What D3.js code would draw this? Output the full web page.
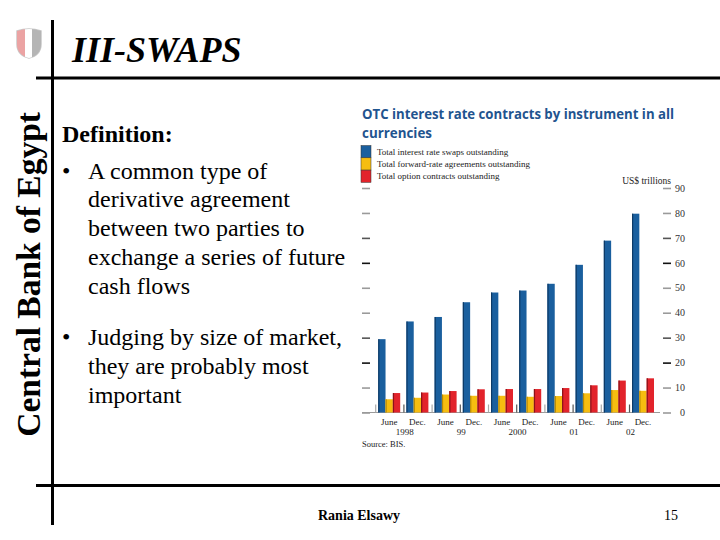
<!DOCTYPE html>
<html><head><meta charset="utf-8">
<script src="https://cdn.jsdelivr.net/npm/d3@7"></script>
<style>html,body{margin:0;padding:0;background:#fff;} svg{display:block;}</style>
</head><body>
<svg id="c" width="720" height="540"></svg>
<script>
// ---- data ----
const categories = ["June 1998","Dec. 1998","June 1999","Dec. 1999","June 2000","Dec. 2000","June 2001","Dec. 2001","June 2002","Dec. 2002"];
const monthLabels = ["June","Dec.","June","Dec.","June","Dec.","June","Dec.","June","Dec."];
const yearLabels = ["1998","99","2000","01","02"];
const swaps   = [29.4, 36.5, 38.3, 44.2, 48.1, 48.9, 51.6, 59.2, 68.9, 79.7];
const fras    = [5.3, 5.9, 7.2, 6.7, 6.7, 6.3, 6.6, 7.7, 9.0, 8.7];
const options = [7.8, 8.0, 8.6, 9.3, 9.4, 9.4, 9.8, 10.9, 12.8, 13.7];
const seriesNames = ["Total interest rate swaps outstanding","Total forward-rate agreements outstanding","Total option contracts outstanding"];
const yTicks = [0,10,20,30,40,50,60,70,80,90];
const chartTitle = ["OTC interest rate contracts by instrument in all","currencies"];
const unitLabel = "US$ trillions";
const sourceLabel = "Source:  BIS.";
const slideTitle = "III-SWAPS";
const sideLabel = "Central Bank of Egypt";
const bulletDefinition = "Definition:";
const bullet1 = ["A common type of","derivative agreement","between two parties to","exchange a series of future","cash flows"];
const bullet2 = ["Judging by size of market,","they are probably most","important"];
const footerName = "Rania Elsawy";
const pageNumber = "15";

// ---- styles ----
const seriesColors = ["#1a5f9e","#f6bd10","#e2232b"];
const serif = "'Liberation Serif','Times New Roman',serif";
const sans = "'Open Sans','Noto Sans',sans-serif";

const svg = d3.select("#c");

// ---- slide frame ----
svg.append("line").attr("x1",52.5).attr("x2",52.5).attr("y1",20).attr("y2",525).attr("stroke","#000").attr("stroke-width",3);
svg.append("line").attr("x1",36).attr("x2",720).attr("y1",78).attr("y2",78).attr("stroke","#000").attr("stroke-width",3);
svg.append("line").attr("x1",36).attr("x2",720).attr("y1",485.5).attr("y2",485.5).attr("stroke","#000").attr("stroke-width",3);

// logo (shield)
const logo = svg.append("g").attr("transform","translate(16,28)");
const shieldPath = "M1,3 Q13,-1 25,3 L25,16 Q25,27 13,30 Q1,27 1,16 Z";
const clip = svg.append("defs").append("clipPath").attr("id","sh");
clip.append("path").attr("d",shieldPath).attr("transform","translate(16,28)");
const lg = svg.append("g").attr("clip-path","url(#sh)");
lg.append("rect").attr("x",16).attr("y",26).attr("width",9).attr("height",34).attr("fill","#eba3a3");
lg.append("rect").attr("x",25).attr("y",26).attr("width",7).attr("height",34).attr("fill","#ffffff");
lg.append("rect").attr("x",32).attr("y",26).attr("width",12).attr("height",34).attr("fill","#b5b5b5");
logo.append("path").attr("d",shieldPath).attr("fill","none").attr("stroke","#c8c8c8").attr("stroke-width",1.5);

svg.append("text").attr("x",72).attr("y",62).attr("font-family",serif).attr("font-size",36)
  .attr("font-weight","bold").attr("font-style","italic").text(slideTitle);

svg.append("text").attr("transform","translate(40,112) rotate(-90)").attr("text-anchor","end")
  .attr("font-family",serif).attr("font-size",33.5).attr("font-weight","bold").text(sideLabel);

// body text
const body = svg.append("g").attr("font-family",serif).attr("font-size",24).attr("fill","#000");
body.append("text").attr("x",62).attr("y",142).attr("font-weight","bold").text(bulletDefinition);
body.append("text").attr("x",62).attr("y",178.5).text("\u2022");
bullet1.forEach((t,i)=> body.append("text").attr("x",88).attr("y",178.5+i*28.8).text(t));
body.append("text").attr("x",62).attr("y",345).text("\u2022");
bullet2.forEach((t,i)=> body.append("text").attr("x",88).attr("y",345+i*28.8).text(t));

// footer
svg.append("text").attr("x",318).attr("y",520).attr("font-family",serif).attr("font-size",14).attr("font-weight","bold").text(footerName);
svg.append("text").attr("x",664).attr("y",520).attr("font-family",serif).attr("font-size",14).text(pageNumber);

// ---- chart ----
const y = d3.scaleLinear().domain([0,90]).range([412.5,188]);
const x0 = d3.scaleBand().domain(categories).range([375.1,657.1]).paddingInner(0.22).paddingOuter(0.11);
const x1 = d3.scaleBand().domain(seriesNames).range([0,x0.bandwidth()]);

const chart = svg.append("g");

// title
chartTitle.forEach((t,i)=>{
  const tx = chart.append("text").attr("x",362).attr("y",119+i*19).attr("font-family",sans)
    .attr("font-size",13.5).attr("font-weight","bold").attr("fill","#1f548f").text(t);
  if(i===0) tx.attr("textLength",312).attr("lengthAdjust","spacingAndGlyphs");
  else tx.attr("textLength",70).attr("lengthAdjust","spacingAndGlyphs");
});

// legend
const legend = chart.append("g");
seriesNames.forEach((s,i)=>{
  legend.append("rect").attr("x",361).attr("y",145.5+i*12.3).attr("width",10).attr("height",12.3).attr("fill",seriesColors[i]).attr("stroke","#333").attr("stroke-width",0.5);
  legend.append("text").attr("x",377).attr("y",154.5+i*12.1).attr("font-family",serif).attr("font-size",9).attr("fill","#222").text(s);
});
chart.append("text").attr("x",671).attr("y",184).attr("text-anchor","end").attr("font-family",serif).attr("font-size",9.5).attr("fill","#222").text(unitLabel);

// ticks color helper
const tickColor = v => (v===20||v===60) ? "#111" : (v===30||v===70 ? "#555" : "#9a9a9a");

// left axis (ticks only)
const leftAxis = chart.append("g").attr("transform","translate(370,0)")
  .call(d3.axisLeft(y).tickValues(yTicks).tickSize(8).tickFormat(""));
leftAxis.select(".domain").remove();
leftAxis.selectAll(".tick line").attr("stroke",d=>tickColor(d)).attr("stroke-width",1.6);

// right axis
const rightAxis = chart.append("g").attr("transform","translate(663,0)")
  .call(d3.axisRight(y).tickValues(yTicks).tickSize(8).tickPadding(3));
rightAxis.select(".domain").remove();
rightAxis.selectAll(".tick line").attr("stroke",d=>tickColor(d)).attr("stroke-width",1.6);
rightAxis.selectAll(".tick text").attr("x",22).attr("text-anchor","end").attr("font-family",serif)
  .attr("font-size",10).attr("fill","#333");

// baseline
chart.append("line").attr("x1",362).attr("x2",660).attr("y1",y(0)).attr("y2",y(0)).attr("stroke","#9a9a9a").attr("stroke-width",1.2);

// small separators
chart.append("g").selectAll("line").data(categories).join("line")
  .attr("x1",d=>x0(d)-2.5).attr("x2",d=>x0(d)-2.5).attr("y1",y(0)-8).attr("y2",y(0))
  .attr("stroke",(d,i)=> i%2 ? "#555" : "#aaa").attr("stroke-width",1.2);

// bars
const seriesData = [swaps,fras,options];
const groups = chart.append("g").selectAll("g").data(categories).join("g")
  .attr("transform",d=>`translate(${x0(d)},0)`);
groups.selectAll("rect").data((d,i)=>seriesNames.map((s,k)=>({s,k,v:seriesData[k][i]}))).join("rect")
  .attr("x",d=>x1(d.s)).attr("width",x1.bandwidth())
  .attr("y",d=>y(d.v)).attr("height",d=>y(0)-y(d.v))
  .attr("fill",d=>seriesColors[d.k]);
// darker left edge for 3D look
groups.selectAll("line.edge").data((d,i)=>seriesNames.map((s,k)=>({s,k,v:seriesData[k][i]}))).join("line")
  .attr("class","edge")
  .attr("x1",d=>x1(d.s)+0.6).attr("x2",d=>x1(d.s)+0.6)
  .attr("y1",d=>y(d.v)).attr("y2",y(0))
  .attr("stroke",d=>["#0d3a66","#b78a06","#8a1218"][d.k]).attr("stroke-width",1.2);

// x labels
chart.append("g").selectAll("text").data(categories).join("text")
  .attr("x",d=>x0(d)+x0.bandwidth()/2).attr("y",424.5).attr("text-anchor","middle")
  .attr("font-family",serif).attr("font-size",9).attr("fill","#222")
  .text((d,i)=>monthLabels[i]);
chart.append("g").selectAll("text").data(yearLabels).join("text")
  .attr("x",(d,i)=>(x0(categories[2*i])+x0(categories[2*i+1])+x0.bandwidth())/2+1.5)
  .attr("y",434.5).attr("text-anchor","middle")
  .attr("font-family",serif).attr("font-size",9).attr("fill","#222").text(d=>d);

chart.append("text").attr("x",362).attr("y",447).attr("font-family",serif).attr("font-size",8.5).attr("fill","#222").text(sourceLabel);
</script>
</body></html>
